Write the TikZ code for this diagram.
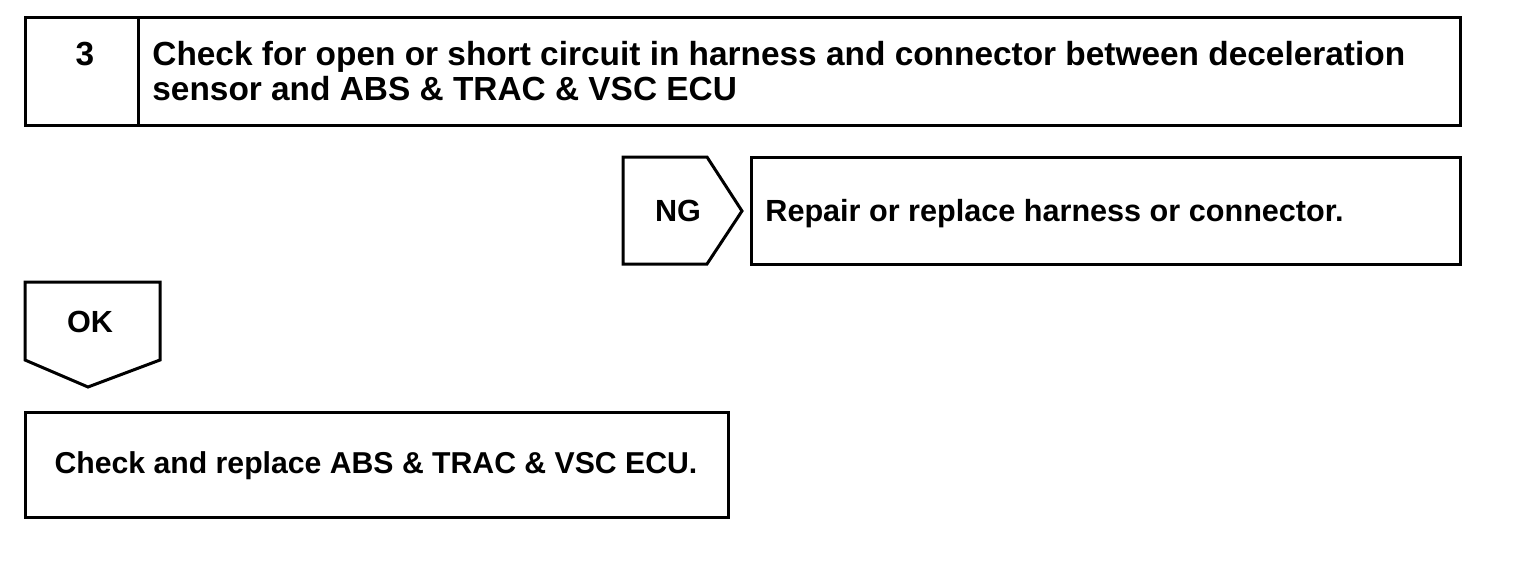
\documentclass[tikz,border=0pt]{standalone}
\usepackage{fontspec}
\setmainfont{Liberation Sans}
\begin{document}
\begin{tikzpicture}[x=0.5pt,y=-0.5pt,
    box/.style={line width=1.5pt,line join=miter},
    lbl/.style={font=\bfseries\fontsize{15.3}{17.5}\selectfont,inner sep=0pt},
    head/.style={font=\bfseries\fontsize{16.7}{17.5}\selectfont,inner sep=0pt}]
  \useasboundingbox (0,0) rectangle (1520,562);
  % step 3
  \draw[box] (25,17) rectangle (1460,125);
  \draw[box] (138,17)--(138,125);
  \node[head,anchor=base] (num) at (85,65) {3};
  \node[head,anchor=north west,align=left] (check) at (152,41)
    {Check for open or short circuit in harness and connector between deceleration\\
     sensor and ABS \& TRAC \& VSC ECU};
  % NG branch
  \draw[box] (623,157)--(707,157)--(742,211)--(707,264)--(623,264)--cycle;
  \node[lbl,anchor=base] (ng) at (678,221) {NG};
  \draw[box] (751,157) rectangle (1460,264);
  \node[lbl,anchor=base west] (repair) at (765,221) {Repair or replace harness or connector.};
  % OK branch
  \draw[box] (25,282)--(160,282)--(160,360)--(88,387)--(25,360)--cycle;
  \node[lbl,anchor=base] (ok) at (90,332) {OK};
  \draw[box] (25,412) rectangle (728,517);
  \node[lbl,font=\bfseries\fontsize{15.1}{17}\selectfont,anchor=base] (ecu) at (376,473)
    {Check and replace ABS \& TRAC \& VSC ECU.};
\end{tikzpicture}
\end{document}
